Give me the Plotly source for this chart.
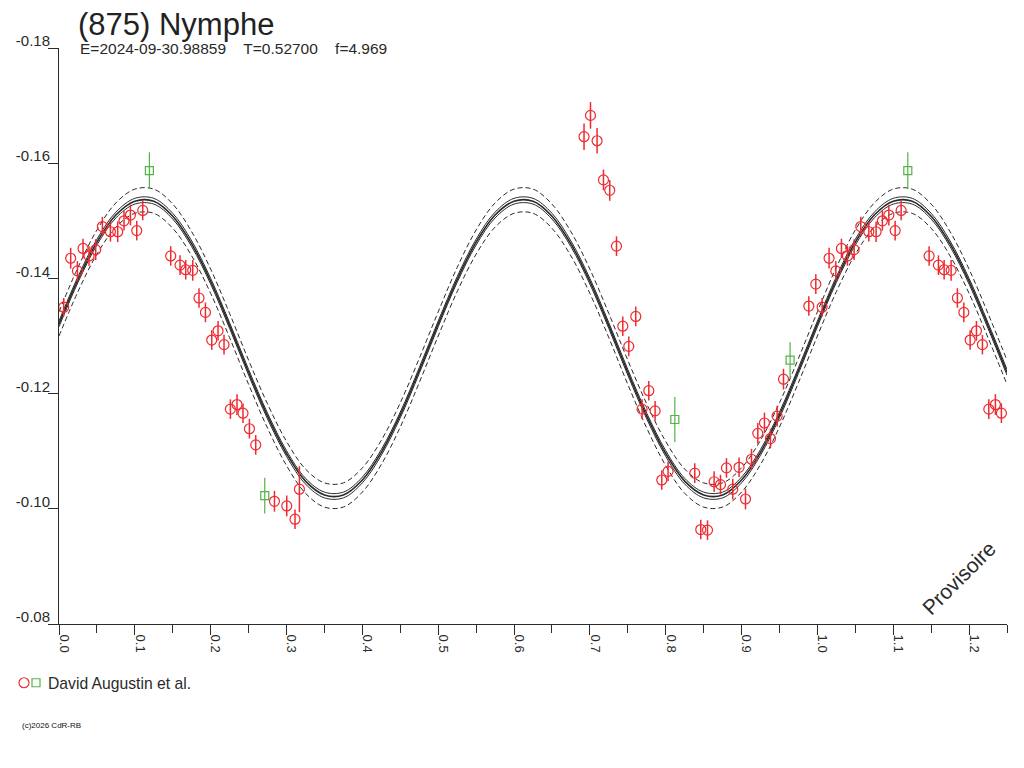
import plotly.graph_objects as go

TITLE    = "(875) Nymphe"
SUBTITLE = "E=2024-09-30.98859\u00a0\u00a0\u00a0\u00a0T=0.52700\u00a0\u00a0\u00a0\u00a0f=4.969"
OBSERVER = "David Augustin et al."
FOOTER   = "(c)2026 CdR-RB"

PHASE_RED = [0.0062, 0.0154, 0.0243, 0.0317, 0.0396, 0.0484, 0.0572, 0.0678,
             0.0774, 0.0857, 0.0942, 0.1025, 0.1104, 0.1473, 0.1596, 0.1671,
             0.1763, 0.1846, 0.1931, 0.2014, 0.2097, 0.2176, 0.2260, 0.2347,
             0.2426, 0.2511, 0.2594, 0.2841, 0.3003, 0.3112, 0.3170,
             0.6923, 0.7008, 0.7095, 0.7179, 0.7262, 0.7351, 0.7434, 0.7513,
             0.7605, 0.7688, 0.7777, 0.7860, 0.7948, 0.8031, 0.8383, 0.8462,
             0.8551, 0.8638, 0.8722, 0.8801, 0.8884, 0.8967, 0.9052, 0.9131,
             0.9214, 0.9302, 0.9381, 0.9469, 0.9553, 0.9887, 0.9979]
MAG_RED = [-0.1350, -0.1435, -0.1413, -0.1452, -0.1439, -0.1450, -0.1490, -0.1481,
           -0.1481, -0.1500, -0.1510, -0.1483, -0.1518, -0.1439, -0.1423, -0.1415,
           -0.1414, -0.1366, -0.1341, -0.1293, -0.1309, -0.1285, -0.1173, -0.1181,
           -0.1166, -0.1139, -0.1111, -0.1013, -0.1005, -0.0982, -0.1034,
           -0.1646, -0.1683, -0.1639, -0.1571, -0.1553, -0.1456, -0.1317, -0.1282,
           -0.1334, -0.1173, -0.1205, -0.1170, -0.1050, -0.1065, -0.1062, -0.0964,
           -0.0963, -0.1047, -0.1042, -0.1071, -0.1034, -0.1072, -0.1017, -0.1086,
           -0.1131, -0.1149, -0.1122, -0.1161, -0.1225, -0.1352, -0.1390]
ERR_RED = [0.0016, 0.0018, 0.0017, 0.0017, 0.0017, 0.0018, 0.0017, 0.0017,
           0.0018, 0.0017, 0.0018, 0.0017, 0.0017, 0.0017, 0.0017, 0.0017,
           0.0018, 0.0017, 0.0017, 0.0017, 0.0017, 0.0017, 0.0017, 0.0018,
           0.0017, 0.0017, 0.0017, 0.0018, 0.0018, 0.0017, 0.0040,
           0.0023, 0.0023, 0.0022, 0.0018, 0.0018, 0.0017, 0.0017, 0.0017,
           0.0017, 0.0017, 0.0017, 0.0017, 0.0017, 0.0017, 0.0017, 0.0017,
           0.0017, 0.0018, 0.0017, 0.0017, 0.0018, 0.0017, 0.0018, 0.0018,
           0.0018, 0.0018, 0.0017, 0.0018, 0.0018, 0.0017, 0.0017]

PHASE_GRN = [0.1192, 0.2713, 0.8120, 0.9640]
MAG_GRN   = [-0.1587, -0.1023, -0.1155, -0.1258]
ERR_GRN   = [0.0032, 0.0031, 0.0039, 0.0031]

# modèle (série de Fourier) relevé tous les 0.025 en phase
MODEL_PHASE = [0.000, 0.025, 0.050, 0.075, 0.100, 0.125, 0.150, 0.175, 0.200, 0.225,
               0.250, 0.275, 0.300, 0.325, 0.350, 0.375, 0.400, 0.425, 0.450, 0.475,
               0.500, 0.525, 0.550, 0.575, 0.600, 0.625, 0.650, 0.675, 0.700, 0.725,
               0.750, 0.775, 0.800, 0.825, 0.850, 0.875, 0.900, 0.925, 0.950, 0.975,
               1.000, 1.025, 1.050, 1.075, 1.100, 1.125, 1.150, 1.175, 1.200, 1.225,
               1.250]
MODEL_MAG = [-0.1321, -0.1398, -0.1463, -0.1510, -0.1534, -0.1534, -0.1508, -0.1460, -0.1395, -0.1318,
             -0.1237, -0.1161, -0.1096, -0.1048, -0.1024, -0.1024, -0.1050, -0.1098, -0.1163, -0.1240,
             -0.1321, -0.1398, -0.1463, -0.1510, -0.1534, -0.1534, -0.1508, -0.1460, -0.1395, -0.1318,
             -0.1237, -0.1161, -0.1096, -0.1048, -0.1024, -0.1024, -0.1050, -0.1098, -0.1163, -0.1240,
             -0.1321, -0.1398, -0.1463, -0.1510, -0.1534, -0.1534, -0.1508, -0.1460, -0.1395, -0.1318,
             -0.1237]
BAND_INNER = 0.0005   # courbes proches
BAND_OUTER = 0.0021   # enveloppe en tirets

X_MAX = 1.25
Y_TICKS = [-0.18, -0.16, -0.14, -0.12, -0.10, -0.08]
X_TICKS = [0.0, 0.1, 0.2, 0.3, 0.4, 0.5, 0.6, 0.7, 0.8, 0.9, 1.0, 1.1, 1.2]

RED   = "#ee2a30"
GREEN = "#52b447"
INK   = "#2a2a2a"
FONT  = "Liberation Sans, Arial, sans-serif"

# la page ajoute une marge de 8 px autour du graphique
PLOT_L, PLOT_R, PLOT_T, PLOT_B = 59, 1007, 48, 624   # cadre voulu, px page
PAGE_OFF = 8


def fold(phase, mag, err):
    """Répète les points au-delà de la phase 1 (jusqu'à X_MAX)."""
    xs, ys, es = list(phase), list(mag), list(err)
    for p, m, e in zip(phase, mag, err):
        if p + 1.0 <= X_MAX:
            xs.append(p + 1.0)
            ys.append(m)
            es.append(e)
    return xs, ys, es


def px_x(page_x):
    return (page_x - PLOT_L) / (PLOT_R - PLOT_L)


def px_y(page_y):
    return (PLOT_B - page_y) / (PLOT_B - PLOT_T)


fig = go.Figure()

# ── Modèle + enveloppes ──────────────────────────────────────────────────────
for off, dash, w in [(-BAND_OUTER, "5px,3px", 1), (BAND_OUTER, "5px,3px", 1),
                     (-BAND_INNER, "solid", 1), (BAND_INNER, "solid", 1),
                     (0.0, "solid", 1.6)]:
    fig.add_trace(go.Scatter(
        x=MODEL_PHASE, y=[m + off for m in MODEL_MAG],
        mode="lines", line=dict(color=INK, width=w, dash=dash, shape="spline"),
        showlegend=False, hoverinfo="skip",
    ))

# ── Observations ─────────────────────────────────────────────────────────────
xr, yr, er = fold(PHASE_RED, MAG_RED, ERR_RED)
fig.add_trace(go.Scatter(
    x=xr, y=yr, mode="markers", name="", legend="legend2",
    marker=dict(symbol="circle-open", size=10, color=RED, line=dict(width=1.2)),
    error_y=dict(type="data", array=er, color=RED, thickness=1.5, width=0),
))
xg, yg, eg = fold(PHASE_GRN, MAG_GRN, ERR_GRN)
fig.add_trace(go.Scatter(
    x=xg, y=yg, mode="markers", name="", legend="legend",
    marker=dict(symbol="square-open", size=8, color=GREEN, line=dict(width=1.2)),
    error_y=dict(type="data", array=eg, color=GREEN, thickness=1.2, width=0),
))

legend_common = dict(orientation="h", xref="paper", yref="paper",
                     yanchor="middle", y=px_y(683), xanchor="left",
                     font=dict(size=15, color=INK), bgcolor="rgba(0,0,0,0)",
                     itemwidth=30)

fig.update_layout(
    width=1024, height=768,
    margin=dict(l=PLOT_L - PAGE_OFF, r=1024 - PLOT_R + PAGE_OFF,
                t=PLOT_T - PAGE_OFF, b=768 - PLOT_B + PAGE_OFF, autoexpand=False),
    paper_bgcolor="white", plot_bgcolor="white",
    font=dict(family=FONT, color=INK, size=14),
    title=dict(text=TITLE, x=(78 - PAGE_OFF) / 1024, xanchor="left", xref="container",
               y=1 - 16 / 768, yanchor="middle", yref="container",
               font=dict(size=31, color="#222222")),
    showlegend=True,
    legend=dict(x=px_x(36 - 20), **legend_common),
    legend2=dict(x=px_x(24 - 20), **legend_common),
)

fig.update_xaxes(
    range=[0, X_MAX], showgrid=False, zeroline=False, automargin=False,
    showline=True, linecolor=INK, linewidth=1,
    tickmode="array", tickvals=X_TICKS, ticktext=[f"{v:.1f}" for v in X_TICKS],
    ticks="outside", ticklen=10, tickcolor=INK, tickangle=90,
    ticklabelshift=5, ticklabelstandoff=-3, tickfont=dict(size=13, color=INK),
    minor=dict(dtick=0.05, tick0=0, ticks="outside", ticklen=8, tickcolor=INK),
)
fig.update_yaxes(
    range=[-0.08, -0.18], showgrid=False, zeroline=False, automargin=False,
    showline=True, linecolor=INK, linewidth=1,
    tickmode="array", tickvals=Y_TICKS, ticktext=[f"{v:.2f}" for v in Y_TICKS],
    ticks="outside", ticklen=10, tickcolor=INK, ticklabelshift=7,
    ticklabelstandoff=-5, tickfont=dict(size=15, color=INK),
)

fig.add_annotation(text=SUBTITLE, xref="paper", yref="paper",
                   x=px_x(78), y=px_y(48), xanchor="left", yanchor="middle",
                   showarrow=False, font=dict(size=15.5, color=INK))
fig.add_annotation(text=OBSERVER, xref="paper", yref="paper",
                   x=px_x(46), y=px_y(683), xanchor="left", yanchor="middle",
                   showarrow=False, font=dict(size=15.7, color=INK))
fig.add_annotation(text="Provisoire", xref="paper", yref="paper",
                   x=px_x(958), y=px_y(578), xanchor="center", yanchor="middle",
                   textangle=-45, showarrow=False,
                   font=dict(size=21, color=INK))
fig.add_annotation(text=FOOTER, xref="paper", yref="paper",
                   x=px_x(20), y=px_y(725), xanchor="left", yanchor="middle",
                   showarrow=False, font=dict(size=8, color="#111111"))

fig.write_html("out.html")
